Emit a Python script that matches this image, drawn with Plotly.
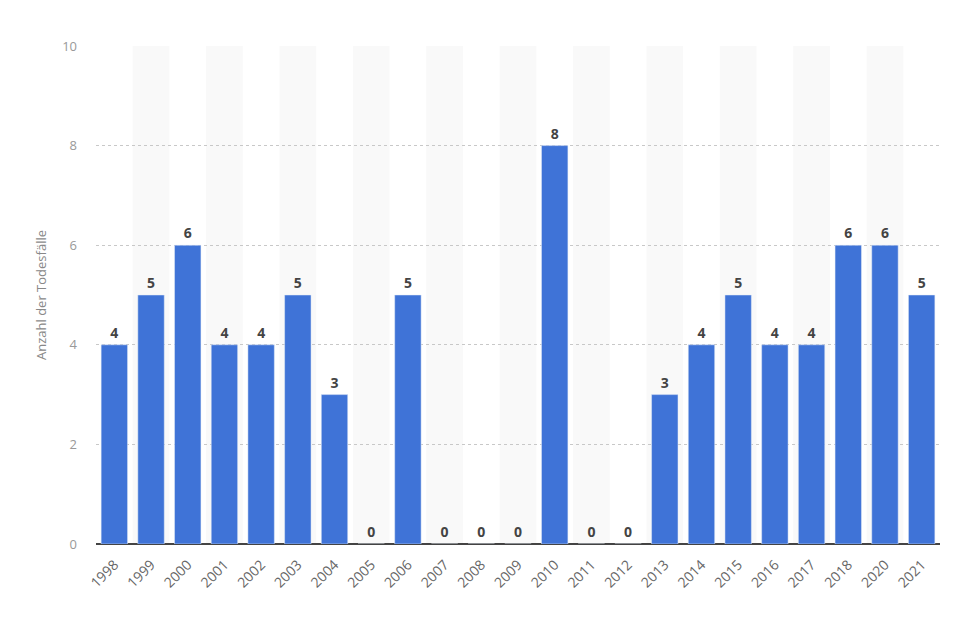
import plotly.graph_objects as go

# Daten
jahre = ["1998", "1999", "2000", "2001", "2002", "2003", "2004", "2005", "2006",
         "2007", "2008", "2009", "2010", "2011", "2012", "2013", "2014", "2015",
         "2016", "2017", "2018", "2020", "2021"]
todesfaelle = [4, 5, 6, 4, 4, 5, 3, 0, 5, 0, 0, 0, 8, 0, 0, 3, 4, 5, 4, 4, 6, 6, 5]
y_ticks = [0, 2, 4, 6, 8, 10]

fig = go.Figure()
fig.add_trace(go.Bar(
    x=jahre, y=todesfaelle,
    marker=dict(color="#3f73d7"),
    text=todesfaelle, textposition="outside", cliponaxis=False,
    textfont=dict(family="Open Sans", size=14, color="#444444", weight="bold"),
))

# abwechselnd graue Hintergrundstreifen
shapes = []
for i in range(1, len(jahre), 2):
    shapes.append(dict(type="rect", xref="x", yref="paper", x0=i - 0.5, x1=i + 0.5,
                       y0=0, y1=1, fillcolor="#f9f9f9", line_width=0, layer="below"))

fig.update_layout(
    width=960, height=620,
    margin=dict(l=88, r=28, t=38, b=84),
    plot_bgcolor="white", paper_bgcolor="white",
    bargap=0.28, showlegend=False, shapes=shapes,
    font=dict(family="Open Sans", color="#888888"),
)
fig.update_xaxes(tickangle=-45, tickfont=dict(size=14, color="#666666"),
                 showgrid=False, ticks="", range=[-0.5, len(jahre) - 0.5],
                 ticklabelstandoff=9)
fig.update_yaxes(range=[0, 10], tickvals=y_ticks, tickfont=dict(size=13, color="#999999"),
                 showgrid=True, gridcolor="#c8c8c8", griddash="dot", gridwidth=1,
                 zeroline=True, zerolinecolor="#444444", zerolinewidth=2,
                 title=dict(text="Anzahl der Todesfälle", font=dict(size=13, color="#888888"),
                            standoff=12),
                 ticklabelstandoff=18)

fig.write_html("out.html")
